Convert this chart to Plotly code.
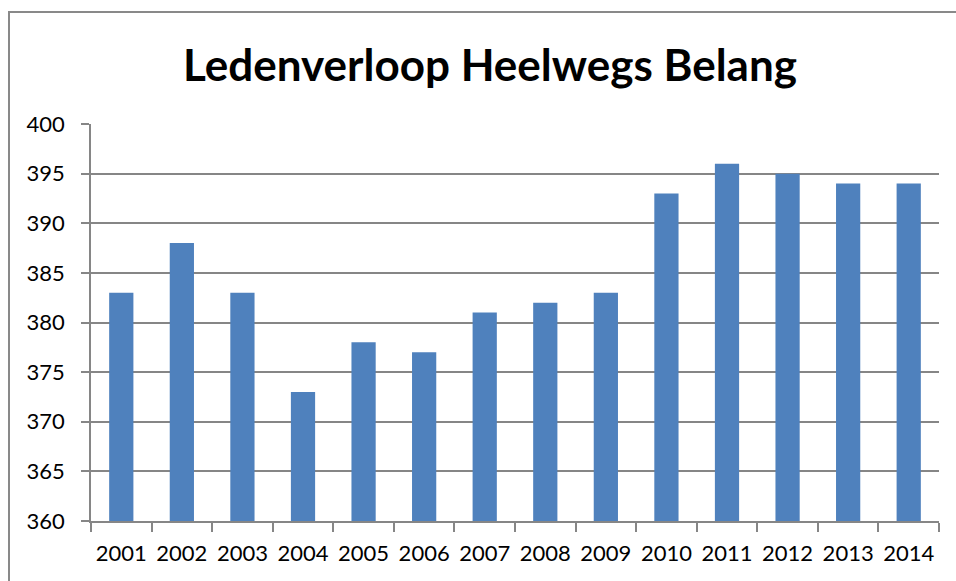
import plotly.graph_objects as go

years = ["2001", "2002", "2003", "2004", "2005", "2006", "2007",
         "2008", "2009", "2010", "2011", "2012", "2013", "2014"]
members = [383, 388, 383, 373, 378, 377, 381, 382, 383, 393, 396, 395, 394, 394]
y_ticks = [360, 365, 370, 375, 380, 385, 390, 395, 400]

W, H = 956, 581
L, T = 91, 124
R, B = W - 939, H - 521

fig = go.Figure(go.Bar(x=years, y=members, marker=dict(color="#4F81BD", line=dict(width=0)),
                       width=0.4))

grid = "#868686"
fig.update_layout(
    width=W, height=H,
    margin=dict(l=L, r=R, t=T, b=B, autoexpand=False),
    paper_bgcolor="white", plot_bgcolor="white",
    font=dict(family="Lato, Carlito, sans-serif", size=22, color="black"),
    title=dict(text="<b>Ledenverloop Heelwegs Belang</b>", x=490 / W, xanchor="center",
               xref="container", yref="container", y=1 - 66 / H, yanchor="middle",
               font=dict(size=44, color="black")),
    showlegend=False,
    bargap=0.6,
)
fig.update_xaxes(type="category", showline=True, linecolor=grid, linewidth=1.5,
                 ticks="outside", tickson="boundaries", ticklen=9, tickcolor=grid, tickwidth=1.5,
                 showgrid=False, tickfont=dict(size=22), tickangle=0, automargin=False,
                 ticklabelstandoff=12)
fig.update_yaxes(range=[360, 400], tickvals=y_ticks, showline=True, linecolor=grid, linewidth=1.5,
                 ticks="outside", ticklen=8, tickcolor=grid, tickwidth=1.5,
                 showgrid=True, gridcolor=grid, gridwidth=1.5, zeroline=False,
                 tickfont=dict(size=22), ticklabelstandoff=12, automargin=False)

# chart outline (Excel chart area border): left and top edges as one open path
PW, PH = W - L - R, H - T - B
x0 = (9 - L) / PW
x1 = (W + 5 - L) / PW
y0 = 1 + (T - 12) / PH
yb = -(B + 5) / PH
fig.add_shape(type="path", xref="paper", yref="paper",
              path=f"M {x0:.5f},{yb:.5f} L {x0:.5f},{y0:.5f} L {x1:.5f},{y0:.5f}",
              line=dict(color="#898989", width=2), fillcolor="rgba(0,0,0,0)")

fig.write_html("out.html", config={"displayModeBar": False},
               post_script="document.body.style.margin='0';document.body.style.overflow='hidden';")
